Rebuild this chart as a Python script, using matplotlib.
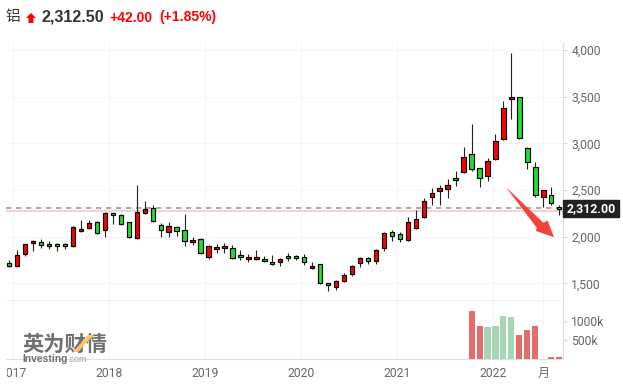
import matplotlib
matplotlib.use('Agg')
import matplotlib.pyplot as plt
import numpy as np
from matplotlib.patches import Polygon, Rectangle
from matplotlib.transforms import Bbox

W, H = 623, 386

highs = [1750, 1857, 1921, 1964, 1971, 1950, 1928, 1936, 2114, 2178, 2178, 2164, 2268, 2257, 2239, 2157, 2553, 2378,
         2336, 2143, 2153, 2111, 2243, 1993, 1982, 1907, 1918, 1928, 1907, 1853, 1811, 1853, 1789, 1800, 1768, 1821,
         1800, 1811, 1725, 1707, 1500, 1532, 1607, 1693, 1779, 1779, 1864, 2046, 2068, 2046, 2207, 2282, 2411, 2518,
         2550, 2614, 2700, 2957, 3204, 2736, 2839, 3096, 3450, 3964, 3500, 2964, 2796, 2496, 2529, 2336]
lows = [1679, 1679, 1796, 1850, 1882, 1864, 1850, 1871, 1893, 2050, 2082, 2032, 1993, 2139, 2121, 1989, 1978, 2246,
        2153, 1993, 2000, 2003, 1896, 1907, 1818, 1764, 1821, 1821, 1764, 1754, 1725, 1750, 1725, 1696, 1689, 1736,
        1746, 1700, 1654, 1496, 1421, 1425, 1518, 1582, 1679, 1711, 1711, 1850, 1957, 1946, 1957, 2086, 2200, 2343,
        2343, 2411, 2539, 2686, 2700, 2529, 2593, 2825, 3032, 3257, 3050, 2721, 2421, 2314, 2343, 2229]
opens = [1714, 1682, 1811, 1928, 1939, 1918, 1918, 1918, 1896, 2057, 2089, 2153, 2068, 2250, 2228, 2153, 1982, 2250,
         2303, 2121, 2046, 2100, 2068, 1939, 1971, 1779, 1864, 1875, 1875, 1800, 1757, 1757, 1757, 1725, 1725, 1789,
         1789, 1779, 1661, 1704, 1500, 1457, 1521, 1596, 1714, 1768, 1736, 1875, 2046, 2025, 1961, 2096, 2207, 2421,
         2486, 2507, 2625, 2689, 2882, 2732, 2646, 2829, 3043, 3471, 3500, 2946, 2743, 2421, 2443, 2314]
closes = [1689, 1800, 1918, 1950, 1907, 1896, 1896, 1896, 2100, 2079, 2143, 2036, 2250, 2228, 2132, 1993, 2261, 2293,
          2164, 2068, 2111, 2057, 1950, 1961, 1821, 1896, 1886, 1896, 1768, 1779, 1779, 1779, 1736, 1704, 1757, 1768,
          1768, 1725, 1682, 1500, 1479, 1521, 1586, 1682, 1768, 1736, 1853, 2036, 2003, 1971, 2161, 2186, 2386, 2464,
          2518, 2550, 2604, 2850, 2721, 2625, 2807, 3021, 3375, 3493, 3054, 2796, 2443, 2496, 2357, 2293]

vol_index = [58, 59, 60, 61, 62, 63, 64, 65, 66, 68, 69]
volumes = [1263, 868, 833, 860, 1123, 1096, 623, 754, 868, 44, 44]
vol_up = [True, True, False, False, False, False, True, True, True, True, True]

price_ticks = [1500, 2000, 2500, 3000, 3500, 4000]
price_labels = ['1,500', '2,000', '2,500', '3,000', '3,500', '4,000']
vol_ticks = [500, 1000]
vol_labels = ['500k', '1000k']
time_ticks = [0.5, 12.55, 24.6, 36.6, 48.65, 60.7, 67]
time_labels = ['2017', '2018', '2019', '2020', '2021', '2022', '月']

last_price = 2312
support_price = 2270

RED = '#ff0000'
GREEN = '#1fe02c'
TICK = '#666666'
CJK = ['Noto Sans CJK SC', 'DejaVu Sans']


def fig_x(px):
    return px / W


def fig_y(py):
    return 1 - py / H


def axes_at(left, top, right, bottom):
    return fig.add_axes([fig_x(left), fig_y(bottom), (right - left) / W, (bottom - top) / H])


def add_shape(points, color, zorder):
    fig.patches.append(Polygon([(fig_x(a), fig_y(b)) for a, b in points], closed=True, color=color,
                               linewidth=0, transform=fig.transFigure, zorder=zorder))


plt.rcParams['font.family'] = ['Roboto', 'Noto Sans CJK SC', 'DejaVu Sans']
fig = plt.figure(figsize=(W / 100, H / 100), dpi=100, facecolor='white')

ax = axes_at(6, 43, 563, 301)
vol = axes_at(6, 301, 563, 359)

x = np.arange(len(opens))
o = np.array(opens)
c = np.array(closes)
colors = [RED if b > a else GREEN for a, b in zip(opens, closes)]

ax.vlines(x, lows, highs, color='#222222', linewidth=0.8, zorder=2)
ax.bar(x, np.abs(c - o), bottom=np.minimum(o, c), width=0.55, color=colors,
       edgecolor='black', linewidth=0.85, zorder=3)

ax.axhline(support_price, color='#f9d0d0', linewidth=1.5, zorder=1)
ax.axhline(last_price, color='#aaaaaa', linewidth=1.44, linestyle=(0, (2.6, 2.4)), zorder=1.5)

ax.set_xlim(-0.41, 69.47)
ax.set_ylim(1310, 4075)
ax.set_yticks(price_ticks, price_labels)
ax.set_xticks(time_ticks, [])
ax.grid(True, color='#f5f6f8', linewidth=0.8)
ax.set_axisbelow(True)
ax.yaxis.tick_right()
ax.tick_params(axis='y', length=3, width=0.7, color='#d5d5d5', labelcolor=TICK, labelsize=8.7, pad=3)
ax.tick_params(axis='x', length=0)

vol_colors = ['#e36c6c' if up else '#a6d7b5' for up in vol_up]
vol.bar(vol_index, volumes, width=0.76, color=vol_colors, zorder=3)
vol.set_xlim(-0.41, 69.47)
vol.set_ylim(0, 1521)
vol.set_yticks(vol_ticks, vol_labels)
vol.set_xticks(time_ticks, time_labels)
vol.grid(True, axis='x', color='#f5f6f8', linewidth=0.8)
vol.set_axisbelow(True)
vol.yaxis.tick_right()
vol.tick_params(axis='y', length=3, width=0.7, color='#d5d5d5', labelcolor=TICK, labelsize=8.7, pad=3)
vol.tick_params(axis='x', length=0, labelcolor=TICK, labelsize=8.7, pad=6)

for a in (ax, vol):
    for side in ('left', 'top'):
        a.spines[side].set_visible(False)
    a.spines['right'].set_color('#dcdcdc')
    a.spines['right'].set_linewidth(0.8)
ax.spines['bottom'].set_color('#c8c8c8')
ax.spines['bottom'].set_linewidth(1.0)
vol.spines['bottom'].set_color('#dde0e6')
vol.spines['bottom'].set_linewidth(0.9)

# the first year label is cut by the left edge of the plot
clip = Bbox([[7, 0], [W, H]])
for lab in vol.get_xticklabels():
    lab.set_clip_box(clip)
    lab.set_clip_on(True)

# header
fig.text(fig_x(6), fig_y(21), '铝', family=CJK, fontsize=10.5, color='#333333')
add_shape([(31, 13), (36, 18), (33.5, 18), (33.5, 23), (28.5, 23), (28.5, 18), (26, 18)], RED, 5)
fig.text(fig_x(41), fig_y(21.5), '2,312.50', family='Liberation Sans', fontweight='bold', fontsize=11.6, color='#333333')
fig.text(fig_x(109), fig_y(21.5), '+42.00', family='Liberation Sans', fontweight='bold', fontsize=10, color=RED)
fig.text(fig_x(159), fig_y(21.5), '(+1.85%)', family='Liberation Sans', fontweight='bold', fontsize=10, color=RED)

# price tag
fig.patches.append(Rectangle((fig_x(563), fig_y(216.5)), 56 / W, 16.5 / H, color='#222222',
                             transform=fig.transFigure, zorder=5))
fig.text(fig_x(591), fig_y(208.5), '2,312.00', ha='center', va='center', color='white', fontweight='bold',
         fontsize=8.9, zorder=6)

# red arrow
add_shape([(506, 187.3), (543.3, 222.7), (547.7, 220.7), (554, 237.3), (536, 231), (536.7, 227.7)], '#f5413c', 7)

# watermark
fig.text(fig_x(22), fig_y(351), '英为财情', family=CJK, fontweight='bold', fontsize=15.3, color='#707070', zorder=6)
add_shape([(73, 352), (78, 352), (94, 335), (88, 335)], '#fbc766', 7)
fig.text(fig_x(22), fig_y(362), 'Investing', family='Liberation Sans', fontweight='bold', fontsize=7.4, color='#6f6f6f', zorder=6)
fig.text(fig_x(67), fig_y(362), '.com', family='Liberation Sans', fontsize=6.4, color='#999999', zorder=6)

plt.savefig('out.png', dpi=100)
plt.close()
